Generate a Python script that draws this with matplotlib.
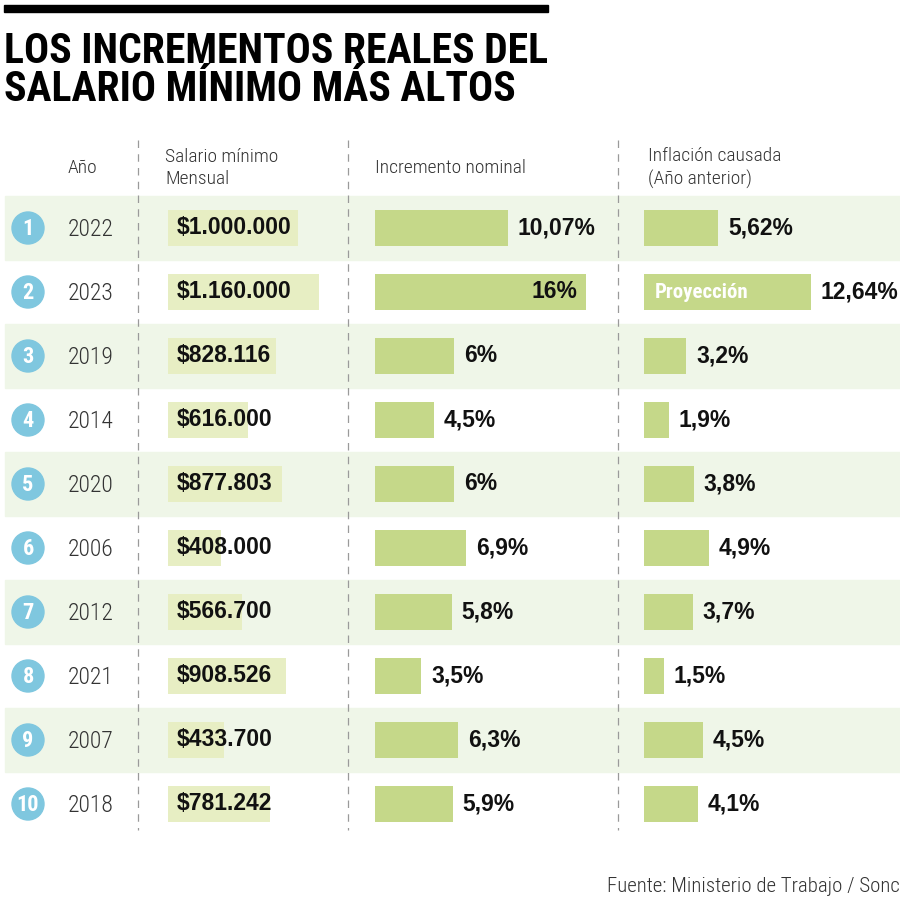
import matplotlib.pyplot as plt
from matplotlib import font_manager as fm
from matplotlib.patches import Circle, Rectangle

ranks = ["1", "2", "3", "4", "5", "6", "7", "8", "9", "10"]
years = ["2022", "2023", "2019", "2014", "2020", "2006", "2012", "2021", "2007", "2018"]
salario = [1000000, 1160000, 828116, 616000, 877803, 408000, 566700, 908526, 433700, 781242]
salario_txt = ["$1.000.000", "$1.160.000", "$828.116", "$616.000", "$877.803",
               "$408.000", "$566.700", "$908.526", "$433.700", "$781.242"]
nominal = [10.07, 16, 6, 4.5, 6, 6.9, 5.8, 3.5, 6.3, 5.9]
nominal_txt = ["10,07%", "16%", "6%", "4,5%", "6%", "6,9%", "5,8%", "3,5%", "6,3%", "5,9%"]
inflacion = [5.62, 12.64, 3.2, 1.9, 3.8, 4.9, 3.7, 1.5, 4.5, 4.1]
inflacion_txt = ["5,62%", "12,64%", "3,2%", "1,9%", "3,8%", "4,9%", "3,7%", "1,5%", "4,5%", "4,1%"]

# pick a narrow face if one is installed
fonts = fm.fontManager.ttflist
names = {f.name for f in fonts}
narrow = None
for cand in ["Roboto Condensed", "Liberation Sans Narrow", "Open Sans Condensed", "Noto Sans Condensed"]:
    if cand in names:
        narrow = cand
        break
stretch = "normal"
if narrow is None:
    narrow = "DejaVu Sans"
    if any(f.name == "DejaVu Sans" and f.stretch == "condensed" for f in fonts):
        stretch = "condensed"
NARROW = [narrow, "DejaVu Sans"]
plt.rcParams["font.family"] = NARROW
plt.rcParams["font.stretch"] = stretch

BAND = "#eff6e8"
BAR = "#c5d889"
SAL_BAR = "#e7eec3"
BLUE = "#7fc7df"
GRAY = "#333333"

fig = plt.figure(figsize=(9, 9), dpi=100)
W = H = 900.0

bg = fig.add_axes([0, 0, 1, 1])
bg.set_xlim(0, W)
bg.set_ylim(H, 0)
bg.axis("off")

row_h = 64
top = 196
n = len(years)

bg.add_patch(Rectangle((4, 5), 544, 7, color="black"))
t1 = bg.text(4, 63, "LOS INCREMENTOS REALES DEL", fontsize=29, fontweight="bold",
             va="baseline", ha="left")
t2 = bg.text(4, 101, "SALARIO MÍNIMO MÁS ALTOS", fontsize=29, fontweight="bold",
             va="baseline", ha="left")
# stretch the first title line to the width of the black rule
r = fig.canvas.get_renderer()
w = t1.get_window_extent(r).width
fs = min(31, 29 * 544 / w)
t1.set_fontsize(fs)
t2.set_fontsize(fs)

for i in range(n):
    y0 = top + i * row_h
    if i % 2 == 0:
        bg.add_patch(Rectangle((5, y0), W - 5, row_h, color=BAND, zorder=0))
    cy = y0 + row_h / 2
    bg.add_patch(Circle((28, cy), 16, color=BLUE, zorder=2))
    bg.text(28, cy + 1, ranks[i], color="white", fontsize=16, fontweight="bold",
            ha="center", va="center", zorder=3)
    bg.text(68, cy + 1, years[i], color=GRAY, fontsize=17, fontweight="light",
            ha="left", va="center")

for x in [138, 348, 618]:
    bg.plot([x, x], [140, 830], color="#9a9a9a", lw=0.9, ls=(0, (6, 5)), zorder=1)

hdr = dict(color=GRAY, fontsize=14, fontweight="light", va="center", ha="left", linespacing=1.35)
bg.text(68, 168, "Año", **hdr)
bg.text(165, 168, "Salario mínimo\nMensual", **hdr)
bg.text(375, 168, "Incremento nominal", **hdr)
bg.text(648, 168, "Inflación causada\n(Año anterior)", **hdr)

bg.text(900, 887, "Fuente: Ministerio de Trabajo / Sonc", color="#333333",
        fontsize=15, fontweight="light", ha="right", va="center")


def col_axes(x0, x1):
    ax = fig.add_axes([x0 / W, 1 - (top + n * row_h) / H, (x1 - x0) / W, n * row_h / H])
    ax.set_ylim(n - 0.5, -0.5)
    ax.axis("off")
    ax.patch.set_alpha(0)
    return ax


rows = list(range(n))
bh = 36 / row_h
lab = dict(textcoords="offset points", fontsize=16.5, fontweight="bold", stretch="normal",
           family=["Liberation Sans", "DejaVu Sans"], va="center", color="#111111")

# salario minimo
ax1 = col_axes(168, 345)
ax1.set_xlim(0, 177 / 130 * 1e6)
ax1.barh(rows, salario, height=bh, color=SAL_BAR)
for i in rows:
    ax1.annotate(salario_txt[i], (0, i), xytext=(6, 0), ha="left", **lab)

# incremento nominal
ax2 = col_axes(375, 618)
ax2.set_xlim(0, 243 / 13.2)
ax2.barh(rows, nominal, height=bh, color=BAR)
for i in rows:
    if nominal[i] >= 15:
        ax2.annotate(nominal_txt[i], (nominal[i], i), xytext=(-6, 0), ha="right", **lab)
    else:
        ax2.annotate(nominal_txt[i], (nominal[i], i), xytext=(7, 0), ha="left", **lab)

# inflacion causada
ax3 = col_axes(644, 900)
ax3.set_xlim(0, 256 / 13.2)
ax3.barh(rows, inflacion, height=bh, color=BAR)
for i in rows:
    ax3.annotate(inflacion_txt[i], (inflacion[i], i), xytext=(7, 0), ha="left", **lab)
ax3.annotate("Proyección", (0, 1), xytext=(8, 0), textcoords="offset points",
             fontsize=15, fontweight="bold", va="center", ha="left", color="white")

fig.savefig("out.png", dpi=100)
